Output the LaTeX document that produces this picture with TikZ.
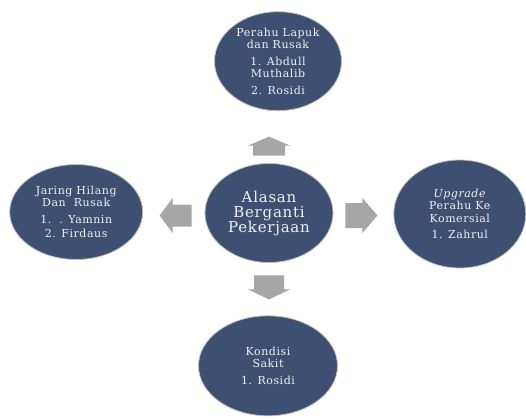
\documentclass[tikz,border=0pt]{standalone}
\usepackage{fontspec}
\setmainfont{DejaVu Serif}[LetterSpace=5]
\usetikzlibrary{positioning, shapes.geometric}
\definecolor{navy}{RGB}{61,80,113}
\definecolor{arrowgray}{RGB}{166,166,166}
% block arrow pointing right: length, head width, body width, head length
\newcommand{\blokpanah}[4]{%
  \fill[arrowgray] ({-#1/2},{-#3/2}) -- ({#1/2-#4},{-#3/2}) -- ({#1/2-#4},{-#2/2}) -- ({#1/2},0)
    -- ({#1/2-#4},{#2/2}) -- ({#1/2-#4},{#3/2}) -- ({-#1/2},{#3/2}) -- cycle;}

\begin{document}
\begin{tikzpicture}[
  bubble/.style={ellipse, draw=white!75!black, line width=0.8pt, fill=navy, text=white!94!black, inner sep=-10pt, align=center, font=\fontsize{11}{12.5}\selectfont},
  hub/.style={bubble, font=\fontsize{15}{15}\selectfont}
]
  \useasboundingbox (-269pt,213pt) rectangle (257pt,-205pt);

  \node[hub, minimum width=128pt, minimum height=99pt] (alasan) at (0,0) {Alasan\\Berganti\\Pekerjaan};

  \node[bubble, minimum width=127pt, minimum height=99pt, above=52pt of alasan, xshift=9pt] (perahu)
    {Perahu Lapuk\\dan Rusak\\[4pt]1. Abdull\\Muthalib\\[4pt]2. Rosidi};
  \node[bubble, minimum width=133pt, minimum height=95pt, left=61.5pt of alasan, yshift=1pt] (jaring)
    {Jaring Hilang\\Dan\ \ Rusak\\[4pt]1.\ \ . Yamnin\\[2pt]2. Firdaus};
  \node[bubble, minimum width=132pt, minimum height=108pt, right=60pt of alasan, yshift=-1pt] (upgrade)
    {\textit{Upgrade}\\Perahu Ke\\Komersial\\[4pt]1. Zahrul};
  \node[bubble, minimum width=139pt, minimum height=100pt, below=52.5pt of alasan, xshift=-1pt] (kondisi)
    {Kondisi\\Sakit\\[4pt]1. Rosidi};

  \coordinate (panahatas) at ([yshift=17pt]alasan.north);
  \coordinate (panahbawah) at ([yshift=-24.5pt]alasan.south);
  \coordinate (panahkiri) at ([xshift=-29pt, yshift=-2.5pt]alasan.west);
  \coordinate (panahkanan) at ([xshift=28pt, yshift=-2.5pt]alasan.east);

  \begin{scope}[shift={(panahatas)}, rotate=90]
    \blokpanah{19pt}{42pt}{32pt}{9pt}
  \end{scope}
  \begin{scope}[shift={(panahbawah)}, rotate=-90]
    \blokpanah{24pt}{42pt}{30pt}{10pt}
  \end{scope}
  \begin{scope}[shift={(panahkiri)}, rotate=180]
    \blokpanah{32pt}{35pt}{22pt}{13pt}
  \end{scope}
  \begin{scope}[shift={(panahkanan)}]
    \blokpanah{32pt}{35pt}{25pt}{15pt}
  \end{scope}
\end{tikzpicture}
\end{document}
